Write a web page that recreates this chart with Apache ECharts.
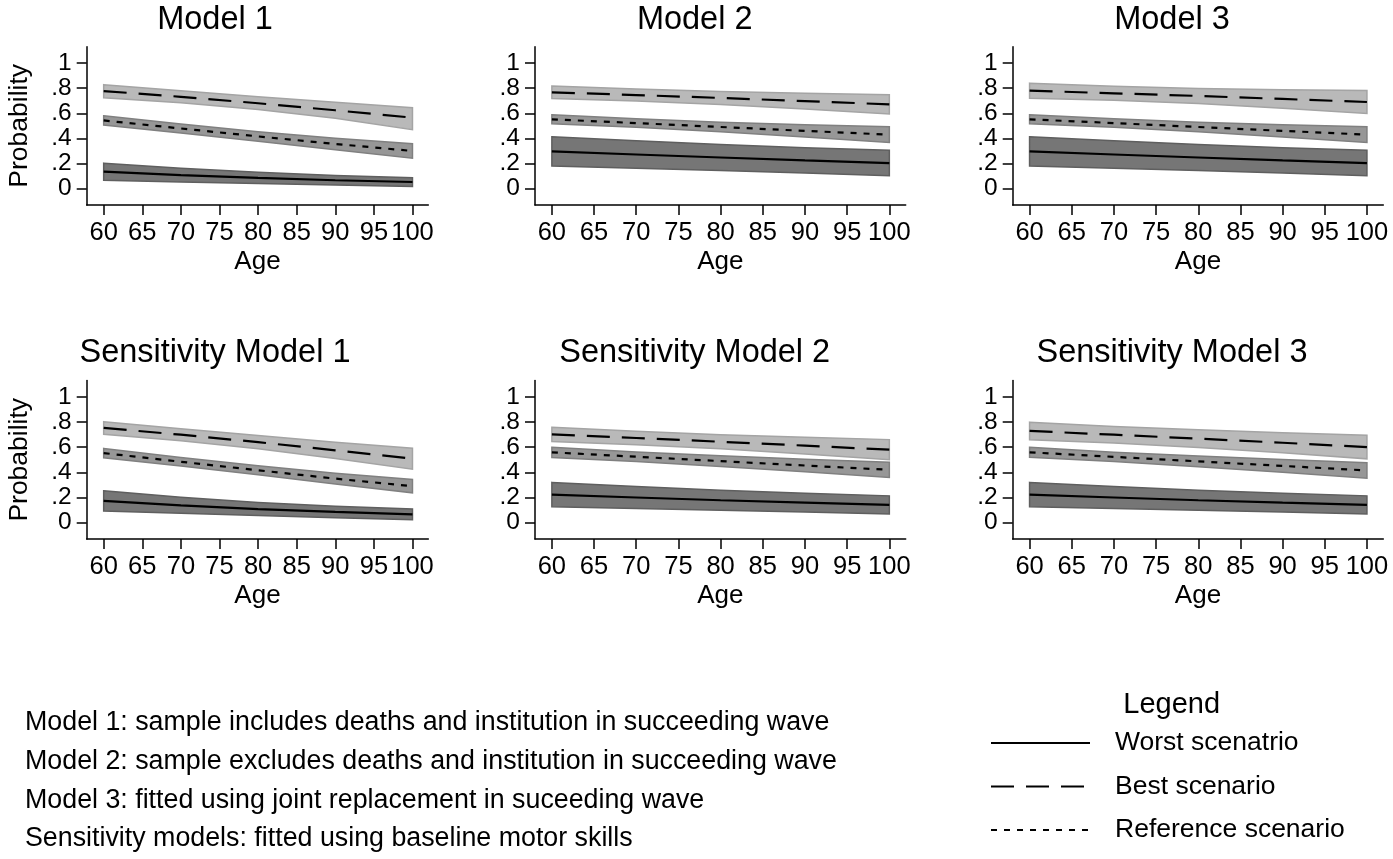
<!DOCTYPE html>
<html>
<head>
<meta charset="utf-8">
<script src="https://cdn.jsdelivr.net/npm/echarts@6/dist/echarts.min.js"></script>
<style>
html,body{margin:0;padding:0;background:#fff;}
#c{width:1393px;height:859px;}
</style>
</head>
<body>
<div id="c"></div>
<script>
// ---------- data ----------
const ages = [60, 70, 80, 90, 100];
const xTicks = [60, 65, 70, 75, 80, 85, 90, 95, 100];
const yTicks = [0, 0.2, 0.4, 0.6, 0.8, 1];
const panelTitles = ['Model 1', 'Model 2', 'Model 3', 'Sensitivity Model 1', 'Sensitivity Model 2', 'Sensitivity Model 3'];
const scenarioNames = ['Worst scenatrio', 'Best scenario', 'Reference scenario'];
const notes = [
  'Model 1: sample includes deaths and institution in succeeding wave',
  'Model 2: sample excludes deaths and institution in succeeding wave',
  'Model 3: fitted using joint replacement in suceeding wave',
  'Sensitivity models: fitted using baseline motor skills'
];

// Model 1
const m1Best    = [0.777, 0.731, 0.680, 0.624, 0.565];
const m1BestHi  = [0.828, 0.780, 0.731, 0.688, 0.645];
const m1BestLo  = [0.724, 0.684, 0.630, 0.560, 0.470];
const m1Ref     = [0.543, 0.479, 0.416, 0.356, 0.300];
const m1RefHi   = [0.580, 0.514, 0.454, 0.402, 0.357];
const m1RefLo   = [0.506, 0.444, 0.378, 0.310, 0.243];
const m1Worst   = [0.135, 0.108, 0.086, 0.067, 0.053];
const m1WorstHi = [0.203, 0.163, 0.130, 0.104, 0.087];
const m1WorstLo = [0.067, 0.053, 0.042, 0.030, 0.017];
// Model 2
const m2Best    = [0.767, 0.745, 0.722, 0.697, 0.671];
const m2BestHi  = [0.817, 0.793, 0.774, 0.759, 0.748];
const m2BestLo  = [0.717, 0.697, 0.670, 0.635, 0.594];
const m2Ref     = [0.552, 0.522, 0.491, 0.460, 0.430];
const m2RefHi   = [0.588, 0.556, 0.529, 0.508, 0.492];
const m2RefLo   = [0.516, 0.488, 0.453, 0.412, 0.368];
const m2Worst   = [0.297, 0.272, 0.248, 0.225, 0.204];
const m2WorstHi = [0.413, 0.382, 0.352, 0.326, 0.305];
const m2WorstLo = [0.181, 0.162, 0.144, 0.124, 0.103];
// Model 3
const m3Best    = [0.780, 0.759, 0.738, 0.714, 0.690];
const m3BestHi  = [0.840, 0.815, 0.797, 0.787, 0.782];
const m3BestLo  = [0.720, 0.703, 0.677, 0.641, 0.598];
const m3Ref     = [0.552, 0.522, 0.491, 0.460, 0.430];
const m3RefHi   = [0.588, 0.556, 0.529, 0.508, 0.492];
const m3RefLo   = [0.516, 0.488, 0.453, 0.412, 0.368];
const m3Worst   = [0.297, 0.272, 0.248, 0.225, 0.204];
const m3WorstHi = [0.413, 0.382, 0.352, 0.326, 0.305];
const m3WorstLo = [0.181, 0.162, 0.144, 0.124, 0.103];
// Sensitivity Model 1
const s1Best    = [0.753, 0.699, 0.640, 0.575, 0.508];
const s1BestHi  = [0.803, 0.747, 0.692, 0.640, 0.591];
const s1BestLo  = [0.703, 0.651, 0.588, 0.510, 0.425];
const s1Ref     = [0.553, 0.484, 0.416, 0.350, 0.290];
const s1RefHi   = [0.590, 0.518, 0.452, 0.393, 0.343];
const s1RefLo   = [0.516, 0.450, 0.380, 0.307, 0.237];
const s1Worst   = [0.173, 0.138, 0.108, 0.085, 0.066];
const s1WorstHi = [0.253, 0.202, 0.160, 0.131, 0.109];
const s1WorstLo = [0.093, 0.074, 0.056, 0.039, 0.023];
// Sensitivity Model 2
const s2Best    = [0.702, 0.673, 0.643, 0.612, 0.580];
const s2BestHi  = [0.759, 0.726, 0.699, 0.678, 0.660];
const s2BestLo  = [0.645, 0.620, 0.587, 0.546, 0.500];
const s2Ref     = [0.559, 0.524, 0.489, 0.454, 0.420];
const s2RefHi   = [0.600, 0.562, 0.531, 0.504, 0.481];
const s2RefLo   = [0.518, 0.486, 0.447, 0.404, 0.359];
const s2Worst   = [0.223, 0.200, 0.178, 0.159, 0.141];
const s2WorstHi = [0.320, 0.288, 0.258, 0.234, 0.213];
const s2WorstLo = [0.126, 0.112, 0.098, 0.084, 0.069];
// Sensitivity Model 3
const s3Best    = [0.729, 0.699, 0.668, 0.635, 0.601];
const s3BestHi  = [0.799, 0.765, 0.738, 0.715, 0.695];
const s3BestLo  = [0.659, 0.633, 0.598, 0.555, 0.507];
const s3Ref     = [0.559, 0.523, 0.487, 0.451, 0.415];
const s3RefHi   = [0.599, 0.560, 0.529, 0.501, 0.477];
const s3RefLo   = [0.519, 0.486, 0.445, 0.401, 0.353];
const s3Worst   = [0.223, 0.200, 0.178, 0.159, 0.141];
const s3WorstHi = [0.320, 0.288, 0.258, 0.234, 0.213];
const s3WorstLo = [0.126, 0.112, 0.098, 0.084, 0.069];

const panels = [
  {best:m1Best, bestHi:m1BestHi, bestLo:m1BestLo, ref:m1Ref, refHi:m1RefHi, refLo:m1RefLo, worst:m1Worst, worstHi:m1WorstHi, worstLo:m1WorstLo},
  {best:m2Best, bestHi:m2BestHi, bestLo:m2BestLo, ref:m2Ref, refHi:m2RefHi, refLo:m2RefLo, worst:m2Worst, worstHi:m2WorstHi, worstLo:m2WorstLo},
  {best:m3Best, bestHi:m3BestHi, bestLo:m3BestLo, ref:m3Ref, refHi:m3RefHi, refLo:m3RefLo, worst:m3Worst, worstHi:m3WorstHi, worstLo:m3WorstLo},
  {best:s1Best, bestHi:s1BestHi, bestLo:s1BestLo, ref:s1Ref, refHi:s1RefHi, refLo:s1RefLo, worst:s1Worst, worstHi:s1WorstHi, worstLo:s1WorstLo},
  {best:s2Best, bestHi:s2BestHi, bestLo:s2BestLo, ref:s2Ref, refHi:s2RefHi, refLo:s2RefLo, worst:s2Worst, worstHi:s2WorstHi, worstLo:s2WorstLo},
  {best:s3Best, bestHi:s3BestHi, bestLo:s3BestLo, ref:s3Ref, refHi:s3RefHi, refLo:s3RefLo, worst:s3Worst, worstHi:s3WorstHi, worstLo:s3WorstLo}
];

// ---------- layout ----------
const FONT = "'Liberation Sans', Arial, Helvetica, sans-serif";
const cols = [
  {left: 86.7, width: 341.6, xmin: 57.8, xmax: 102.05, titleX: 215},
  {left: 535, width: 370.7, xmin: 58.0, xmax: 101.94, titleX: 694.7},
  {left: 1012.7, width: 370.6, xmin: 58.0, xmax: 101.94, titleX: 1172}
];
const rows = [
  {top: 46.7, height: 158.3, titleY: 20},
  {top: 380.5, height: 158.5, titleY: 353.3}
];

const grids = [], xAxes = [], yAxes = [], series = [], graphics = [];

function fmtY(v) {
  if (v === 0) return '0';
  if (v === 1) return '1';
  return v.toFixed(1).replace(/^0/, '');
}

function band(idx, lo, hi, fill, stroke) {
  return {
    type: 'custom',
    xAxisIndex: idx, yAxisIndex: idx,
    silent: true, z: 1,
    data: ages.map((a, i) => [a, lo[i], hi[i]]),
    encode: {x: 0, y: [1, 2]},
    renderItem: function (params, api) {
      if (params.dataIndex !== 0) return null;
      const pts = [];
      for (let i = 0; i < ages.length; i++) pts.push(api.coord([ages[i], hi[i]]));
      for (let i = ages.length - 1; i >= 0; i--) pts.push(api.coord([ages[i], lo[i]]));
      return {type: 'polygon', shape: {points: pts}, style: {fill: fill, stroke: stroke, lineWidth: 1.5}};
    }
  };
}

function line(idx, name, vals, type) {
  return {
    type: 'line', name: name,
    xAxisIndex: idx, yAxisIndex: idx,
    symbol: 'none', showSymbol: false, silent: true, z: 3,
    data: ages.map((a, i) => [a, vals[i]]),
    lineStyle: {color: '#000', width: 2.2, type: type},
    itemStyle: {color: '#000'}
  };
}

for (let r = 0; r < 2; r++) {
  for (let c = 0; c < 3; c++) {
    const idx = r * 3 + c;
    const col = cols[c], row = rows[r];
    grids.push({left: col.left, top: row.top, width: col.width, height: row.height});
    xAxes.push({
      type: 'value', gridIndex: idx, min: col.xmin, max: col.xmax,
      name: 'Age', nameLocation: 'middle', nameGap: 44,
      nameTextStyle: {fontSize: 26, color: '#000', fontFamily: FONT},
      axisLine: {show: true, onZero: false, lineStyle: {color: '#000', width: 1.5}},
      axisTick: {show: true, length: 10, inside: false, customValues: xTicks, lineStyle: {color: '#000', width: 1.5}},
      axisLabel: {show: true, margin: 15, fontSize: 25.5, color: '#000', fontFamily: FONT, customValues: xTicks, hideOverlap: false, showMinLabel: true, showMaxLabel: true},
      splitLine: {show: false}
    });
    yAxes.push({
      type: 'value', gridIndex: idx, min: -0.13, max: 1.13,
      name: c === 0 ? 'Probability' : '', nameLocation: 'middle', nameGap: 54,
      nameTextStyle: {fontSize: 26.5, color: '#000', fontFamily: FONT},
      axisLine: {show: true, onZero: false, lineStyle: {color: '#000', width: 1.5}},
      axisTick: {show: true, length: 10, inside: false, customValues: yTicks, lineStyle: {color: '#000', width: 1.5}},
      axisLabel: {show: true, margin: 15, fontSize: 24.5, color: '#000', fontFamily: FONT, customValues: yTicks, formatter: fmtY, hideOverlap: false, showMinLabel: true, showMaxLabel: true},
      splitLine: {show: false}
    });
    const p = panels[idx];
    series.push(band(idx, p.bestLo, p.bestHi, '#b9b9b9', '#a4a4a4'));
    series.push(band(idx, p.refLo, p.refHi, '#979797', '#808080'));
    series.push(band(idx, p.worstLo, p.worstHi, '#767676', '#5f5f5f'));
    series.push(line(idx, scenarioNames[0], p.worst, 'solid'));
    series.push(line(idx, scenarioNames[1], p.best, [23, 12]));
    series.push(line(idx, scenarioNames[2], p.ref, [6, 7]));
    graphics.push({
      type: 'text', x: col.titleX, y: row.titleY, silent: true,
      style: {text: panelTitles[idx], fontSize: 32.5, fontFamily: FONT, fill: '#000', align: 'center', verticalAlign: 'middle'}
    });
  }
}

const noteY = [722.5, 762, 800.5, 839];
notes.forEach((t, i) => {
  graphics.push({
    type: 'text', x: 25, y: noteY[i], silent: true,
    style: {text: t, fontSize: 26.8, fontFamily: FONT, fill: '#000', align: 'left', verticalAlign: 'middle'}
  });
});
graphics.push({
  type: 'text', x: 1171.7, y: 705, silent: true,
  style: {text: 'Legend', fontSize: 29, fontFamily: FONT, fill: '#000', align: 'center', verticalAlign: 'middle'}
});

const chart = echarts.init(document.getElementById('c'), null, {renderer: 'canvas'});
chart.setOption({
  animation: false,
  backgroundColor: '#fff',
  grid: grids,
  xAxis: xAxes,
  yAxis: yAxes,
  legend: {
    show: true, orient: 'vertical', left: 990, top: 728, padding: 0,
    itemWidth: 99, itemHeight: 1, itemGap: 13.5,
    selectedMode: false,
    itemStyle: {opacity: 0},
    data: scenarioNames,
    textStyle: {fontSize: 26.5, color: '#000', fontFamily: FONT, lineHeight: 30, padding: [0, 0, 0, 20]}
  },
  graphic: graphics,
  series: series
});
</script>
</body>
</html>
